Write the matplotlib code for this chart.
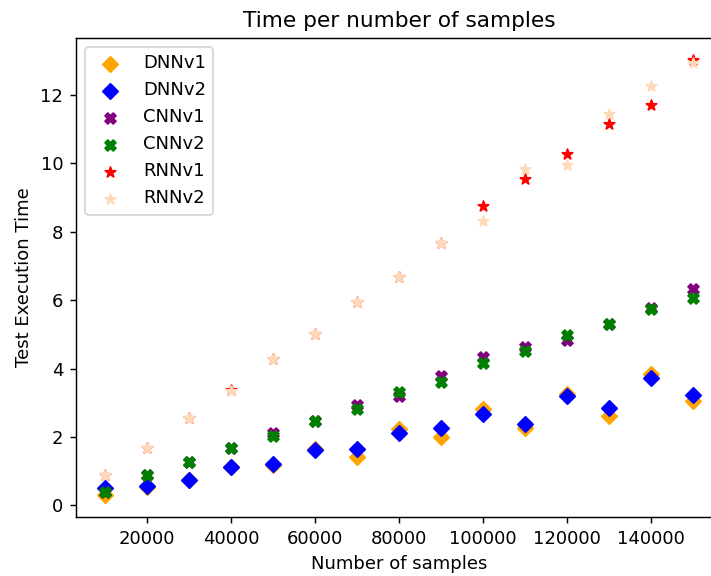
import matplotlib
matplotlib.use("Agg")
import matplotlib.pyplot as plt

# Data
samples = [10000, 20000, 30000, 40000, 50000, 60000, 70000, 80000,
           90000, 100000, 110000, 120000, 130000, 140000, 150000]

dnn_v1 = [0.30, 0.55, 0.74, 1.12, 1.18, 1.65, 1.41, 2.23, 1.99, 2.83, 2.27, 3.27, 2.61, 3.84, 3.05]
dnn_v2 = [0.51, 0.58, 0.74, 1.12, 1.21, 1.63, 1.65, 2.13, 2.27, 2.68, 2.37, 3.21, 2.84, 3.72, 3.24]
cnn_v1 = [0.40, 0.88, 1.28, 1.67, 2.13, 2.47, 2.95, 3.19, 3.77, 4.35, 4.64, 4.83, 5.31, 5.76, 6.32]
cnn_v2 = [0.40, 0.88, 1.26, 1.67, 2.02, 2.47, 2.83, 3.31, 3.62, 4.15, 4.51, 4.99, 5.31, 5.74, 6.06]
rnn_v1 = [0.88, 1.67, 2.56, 3.36, 4.27, 5.02, 5.93, 6.68, 7.67, 8.76, 9.55, 10.27, 11.14, 11.69, 13.02]
rnn_v2 = [0.88, 1.67, 2.56, 3.33, 4.27, 5.02, 5.93, 6.68, 7.67, 8.30, 9.82, 9.96, 11.43, 12.25, 12.93]

fig = plt.figure(figsize=(711 / 130, 576 / 130), dpi=130)
# right spine falls just outside the picture, as in the cropped original
ax = fig.add_axes([76 / 711, 59 / 576, 646 / 711, 479 / 576])

ax.scatter(samples, dnn_v1, marker="D", color="orange", label="DNNv1")
ax.scatter(samples, dnn_v2, marker="D", color="blue", label="DNNv2")
ax.scatter(samples, cnn_v1, marker="X", color="purple", label="CNNv1")
ax.scatter(samples, cnn_v2, marker="X", color="green", label="CNNv2")
ax.scatter(samples, rnn_v1, marker="*", color="red", label="RNNv1")
ax.scatter(samples, rnn_v2, marker="*", color="peachpuff", label="RNNv2")

ax.set_title("Time per number of samples")
ax.set_xlabel("Number of samples")
ax.set_ylabel("Test Execution Time")
ax.legend(loc="upper left")

fig.savefig("out.png", dpi=130)
